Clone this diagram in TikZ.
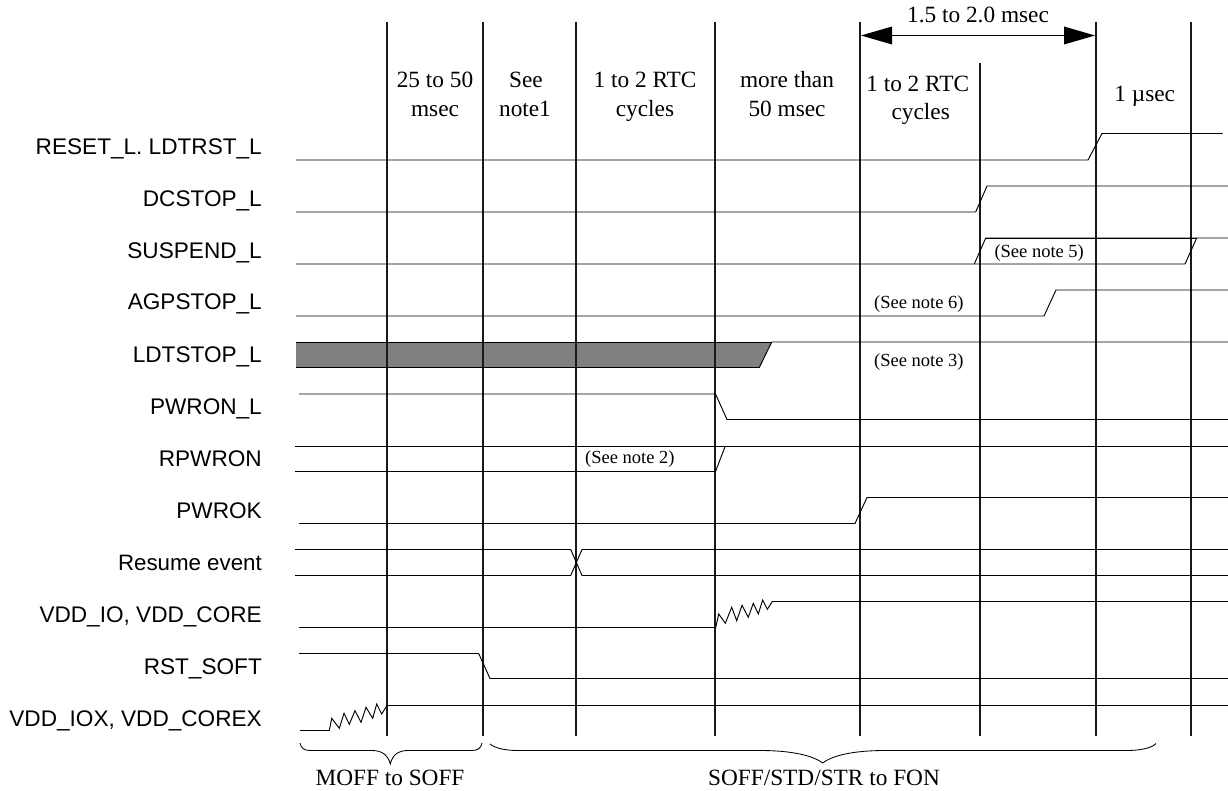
\documentclass[tikz,border=0pt]{standalone}
\usepackage{fontspec}
\setmainfont{Liberation Serif}
\newfontfamily\labelfont{Liberation Sans}
\tikzset{
  sig/.style={draw=black,line width=0.95pt,line join=miter},
  vln/.style={draw=black!90,line width=1.25pt},
  brc/.style={draw=black,line width=0.85pt},
  siglab/.style={anchor=base east,inner sep=0pt,font=\fontsize{22.6}{22.6}\selectfont\labelfont},
  cell/.style={anchor=base,inner sep=0pt,font=\fontsize{23.3}{23.3}\selectfont},
  note/.style={anchor=base west,inner sep=0pt,font=\fontsize{18.5}{18.5}\selectfont},
}
\begin{document}
\begin{tikzpicture}[x=1pt,y=-1pt]
\useasboundingbox (0,0) rectangle (1228,791);
% gray band
\fill[black!50] (296,342) -- (771.7,342) -- (759.3,367.5) -- (296,367.5) -- cycle;
% vertical lines
\foreach \xx in {387,483,576,715,860,1096,1191} \draw[vln] (\xx,22.5) -- (\xx,735.5);
\draw[vln] (980,63.5) -- (980,735.5);
% dimension arrow
\draw[draw=black,line width=1.4pt] (885,35.5) -- (1070,35.5);
\fill (861,35.5) -- (892,26.5) -- (892,44.5) -- cycle;
\fill (1095,35.5) -- (1064,26.5) -- (1064,44.5) -- cycle;
% signals
\draw[sig] (296,160) -- (1088,160) -- (1102,133.5) -- (1222.5,133.5);
\draw[sig] (296,212) -- (975.7,212) -- (987,186) -- (1228,186);
\draw[sig] (296,264) -- (1185,264) -- (1196.7,238) -- (1228,238);
\draw[sig] (974.3,264) -- (985.7,238) -- (1196.7,238);
\draw[sig] (985.7,238) -- (1196.7,238);
\draw[sig] (296,316) -- (1044,316) -- (1056,290) -- (1228,290);
\draw[sig] (296,367.5) -- (759.3,367.5) -- (771.7,342) -- (1228,342);
\draw[sig] (296,342) -- (771.7,342);
\draw[sig] (299,394) -- (715.5,394) -- (727,419.5) -- (1228,419.5);
\draw[sig] (295,446) -- (1228,446);
\draw[sig] (295,471.5) -- (715.5,471.5) -- (725.3,446);
\draw[sig] (299,523.5) -- (855,523.5) -- (867,497.5) -- (1228,497.5);
\draw[sig] (295,549.5) -- (570.7,549.5) -- (582,575.5) -- (1228,575.5);
\draw[sig] (295,575.5) -- (570.7,575.5) -- (582,549.5) -- (1228,549.5);
\draw[sig] (299,627.5) -- (715.7,627.5) -- (718.7,614) -- (725.3,623.3) -- (731.7,607.3) -- (736.7,620.7) -- (742,605.3) -- (748.3,617.3) -- (753.3,603.3) -- (758.3,614) -- (762.7,600) -- (767.3,609.3) -- (772.3,601.5) -- (1228,601.5);
\draw[sig] (299,653.5) -- (478.7,653.5) -- (490,678.5) -- (1228,678.5);
\draw[sig] (300,730.5) -- (329.3,730.5) -- (331.7,718.3) -- (339.3,728.3) -- (344,713.3) -- (349.3,724.3) -- (355,710.7) -- (361,722.3) -- (366,707.3) -- (372.7,718.3) -- (376.7,704) -- (381.7,714) -- (387,705.5) -- (1228,705.5);
% braces
\draw[brc] (300,743) .. controls (301,748) and (304,750.5) .. (310,750.5) -- (372,750.5)
  .. controls (382,750.5) and (388,755) .. (390.3,764)
  .. controls (392.5,755) and (398,750.5) .. (408,750.5) -- (472,750.5)
  .. controls (478,750.5) and (481,748) .. (482,743);
\draw[brc] (490,744) .. controls (496,749) and (508,750.5) .. (518,750.5) -- (760,750.5)
  .. controls (790,750.5) and (812,755) .. (822.7,763)
  .. controls (833,755) and (855,750.5) .. (885,750.5) -- (1127,750.5)
  .. controls (1140,750.5) and (1152,748) .. (1156,743.5);
% signal labels
\node[siglab] (lreset) at (262,155) {RESET\_L. LDTRST\_L};
\node[siglab] (ldc) at (262,207) {DCSTOP\_L};
\node[siglab] (lsus) at (262,258.5) {SUSPEND\_L};
\node[siglab] (lagp) at (262,310) {AGPSTOP\_L};
\node[siglab] (lldt) at (262,362) {LDTSTOP\_L};
\node[siglab] (lpwron) at (262,414) {PWRON\_L};
\node[siglab] (lrpwr) at (262,466) {RPWRON};
\node[siglab] (lpwrok) at (262,518) {PWROK};
\node[siglab,font=\fontsize{22.3}{22.3}\selectfont\labelfont] (lres) at (262,570) {Resume event};
\node[siglab] (lvdd) at (262,622) {VDD\_IO, VDD\_CORE};
\node[siglab] (lrst) at (262,674) {RST\_SOFT};
\node[siglab] (lvddx) at (262,726) {VDD\_IOX, VDD\_COREX};
% cell texts
\node[cell] (t1a) at (435,88) {25 to 50};
\node[cell] (t1b) at (435,117) {msec};
\node[cell] (t2a) at (526,88) {See};
\node[cell] (t2b) at (525,117) {note1};
\node[cell] (t3a) at (645,88) {1 to 2 RTC};
\node[cell] (t3b) at (645,117) {cycles};
\node[cell] (t4a) at (787,88) {more than};
\node[cell] (t4b) at (787,117) {50 msec};
\node[cell] (t5a) at (917.7,92) {1 to 2 RTC};
\node[cell] (t5b) at (920.7,120) {cycles};
\node[cell] (t6) at (1144.7,102) {1 µsec};
\node[cell] (dim) at (978,23) {1.5 to 2.0 msec};
\node[cell] (moff) at (390,785) {MOFF to SOFF};
\node[cell] (soff) at (824,785) {SOFF/STD/STR to FON};
% notes
\node[note] (n5) at (994.3,258) {(See note 5)};
\node[note] (n6) at (874,309) {(See note 6)};
\node[note] (n3) at (874,366) {(See note 3)};
\node[note] (n2) at (585,463) {(See note 2)};
\end{tikzpicture}
\end{document}
